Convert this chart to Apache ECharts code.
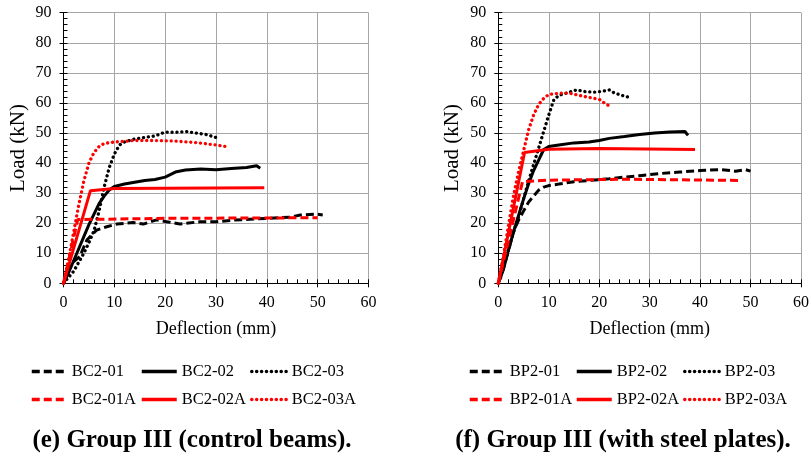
<!DOCTYPE html>
<html>
<head>
<meta charset="utf-8">
<script src="https://cdn.jsdelivr.net/npm/echarts@6/dist/echarts.min.js"></script>
<style>
  html, body { margin: 0; padding: 0; background: #fff; }
  #chart { width: 812px; height: 461px; }
</style>
</head>
<body>
<div id="chart"></div>
<script>
// Load–deflection curves, Group III beams. Points are [deflection (mm), load (kN)].

// (e) control beams — tests
const BC2_01 = [[0,0],[1,4],[1.6,6.7],[3.2,8.9],[4.6,14.4],[6.5,17.7],[8.5,18.8],[10.5,19.7],[13.7,20.2],[15.7,19.7],[18.3,21.1],[20.3,20.5],[22.9,19.7],[26.9,20.5],[30.1,20.5],[33.4,21],[40,21.6],[44.6,22],[46.6,22.7],[49.8,23],[51,22.7]];
const BC2_02 = [[0,0],[1,3.5],[2,7.5],[3,11.5],[4,15.5],[5,19.5],[6,23],[7,26.5],[8,29],[9,31],[10,32.2],[12,33],[14,33.6],[16,34.2],[18,34.5],[20,35.3],[22,37],[24,37.7],[27,38],[30,37.8],[33,38.2],[36,38.5],[38,39.1],[38.7,38.3]];
const BC2_03 = [[0,0],[1,2],[2,4],[3,7],[4,10],[5,13.5],[6,17.5],[7,24],[8,32],[9,38.5],[10,43],[11,46],[12,47],[14,48],[16,48.5],[18,49],[20,50.3],[22,50.2],[24,50.5],[26,50],[28,49.5],[30,48.5]];
// (e) control beams — analytical
const BC2_01A = [[0,0],[2.8,21.2],[20,21.6],[50,21.8]];
const BC2_02A = [[0,0],[5.3,30.8],[10,31.5],[39.5,31.8]];
const BC2_03A = [[0,0],[1,8],[2,17],[3,26],[4,34],[5,40],[6,43.5],[7,45.5],[8,46.5],[10,47],[14,47.5],[18,47.5],[22,47.3],[26,46.8],[30,46],[32.5,45.3]];

// (f) beams with steel plates — tests
const BP2_01 = [[0,0],[1,5],[2,11],[3,17],[4,21],[5,24],[6,27],[7,29],[8,31],[9,32],[10,32.5],[12,33],[15,33.8],[18,34.2],[22,34.8],[25,35.3],[28,35.8],[32,36.5],[36,37],[40,37.5],[44,37.8],[47,37.3],[49,37.8],[50,37.3]];
const BP2_02 = [[0,0],[1,4.5],[2,11],[3,17],[4,22.5],[5,28],[6,33],[7,37.5],[8,41],[9,44.5],[10,45.5],[12,46],[15,46.7],[18,47],[20,47.5],[22,48.2],[25,48.8],[28,49.5],[31,50],[34,50.3],[37,50.5],[37.6,49.2]];
const BP2_03 = [[0,0],[1,5],[2,11],[3,17],[4,22],[5,28],[6,34],[7,39.5],[8,45],[9,50.5],[10,56],[11,61],[12,62.5],[14,63.5],[15.5,64.3],[17,63.8],[19,63.6],[20.5,63.8],[22,64.3],[23,63.3],[24.5,62.5],[26,61.8]];
// (f) beams with steel plates — analytical
const BP2_01A = [[0,0],[4.8,33.8],[10,34.3],[25,34.6],[48,34.2]];
const BP2_02A = [[0,0],[5.2,43.5],[10,44.6],[20,44.8],[39,44.5]];
const BP2_03A = [[0,0],[1,9],[2,19],[3,29],[4,37],[5,44],[6,51],[7,56],[8,59.5],[9,61.5],[10,62.8],[12,63.2],[14,63.3],[16,62.5],[18,61.8],[20,61.2],[21,60],[22.3,58.7]];

const leftNames = ['BC2-01', 'BC2-02', 'BC2-03', 'BC2-01A', 'BC2-02A', 'BC2-03A'];
const rightNames = ['BP2-01', 'BP2-02', 'BP2-03', 'BP2-01A', 'BP2-02A', 'BP2-03A'];
const leftData = [BC2_01, BC2_02, BC2_03, BC2_01A, BC2_02A, BC2_03A];
const rightData = [BP2_01, BP2_02, BP2_03, BP2_01A, BP2_02A, BP2_03A];
const captions = ['(e) Group III (control beams).', '(f) Group III (with steel plates).'];

const FONT = 'Liberation Serif';
const colors = ['#000000', '#000000', '#000000', '#ff0000', '#ff0000', '#ff0000'];
const styles = [
  { type: [8, 4], width: 3 },                    // dashed
  { type: 'solid', width: 3 },                   // solid
  { type: [0.1, 4.8], width: 3.3, cap: 'round' } // dotted
];

const panels = [
  { left: 63.5, names: leftNames, data: leftData, legendX: [30, 140, 250], title: captions[0], titleX: 192 },
  { left: 498.3, names: rightNames, data: rightData, legendX: [468, 575, 683], title: captions[1], titleX: 623 }
];

const grids = [], xAxes = [], yAxes = [], series = [], legends = [];

panels.forEach((p, gi) => {
  grids.push({ left: p.left, top: 12.7, width: 305, height: 270.6, containLabel: false });

  const xBase = {
    type: 'value', gridIndex: gi, min: 0, max: 60, interval: 10,
    axisLine: { show: true, onZero: false, lineStyle: { color: '#000', width: 1 } }
  };
  const yBase = {
    type: 'value', gridIndex: gi, min: 0, max: 90, interval: 10,
    axisLine: { show: true, onZero: false, lineStyle: { color: '#000', width: 1 } }
  };

  // main axes: labels, grid lines, outward major ticks
  xAxes.push(Object.assign({}, xBase, {
    position: 'bottom',
    name: 'Deflection (mm)', nameLocation: 'middle', nameGap: 37,
    nameTextStyle: { fontFamily: FONT, fontSize: 18, color: '#000' },
    axisTick: { show: true, inside: false, length: 4, lineStyle: { color: '#000' } },
    axisLabel: { fontFamily: FONT, fontSize: 16, color: '#000', margin: 11 },
    splitLine: { show: true, lineStyle: { color: '#a6a6a6', width: 1 } }
  }));
  yAxes.push(Object.assign({}, yBase, {
    position: 'left',
    name: 'Load (kN)', nameLocation: 'middle', nameGap: 35, nameRotate: 90,
    nameTextStyle: { fontFamily: FONT, fontSize: 21, color: '#000' },
    axisTick: { show: true, inside: false, length: 4, lineStyle: { color: '#000' } },
    axisLabel: { fontFamily: FONT, fontSize: 16, color: '#000', margin: 12 },
    splitLine: { show: true, lineStyle: { color: '#a6a6a6', width: 1 } }
  }));
  // companion axes: inward major and minor ticks
  xAxes.push(Object.assign({}, xBase, {
    position: 'bottom',
    axisTick: { show: true, inside: true, length: 4, lineStyle: { color: '#000' } },
    minorTick: { show: true, splitNumber: 5, length: 4, lineStyle: { color: '#000' } },
    axisLabel: { show: false }, splitLine: { show: false }
  }));
  yAxes.push(Object.assign({}, yBase, {
    position: 'left',
    axisTick: { show: true, inside: true, length: 4, lineStyle: { color: '#000' } },
    minorTick: { show: true, splitNumber: 5, length: 4, lineStyle: { color: '#000' } },
    axisLabel: { show: false }, splitLine: { show: false }
  }));

  p.names.forEach((name, i) => {
    series.push({
      name: name, type: 'line', xAxisIndex: gi * 2, yAxisIndex: gi * 2,
      data: p.data[i], symbol: 'none', smooth: false, animation: false,
      color: colors[i],
      lineStyle: Object.assign({ color: colors[i] }, styles[i % 3])
    });
    legends.push({
      data: [name], left: p.legendX[i % 3], top: i < 3 ? 363 : 391,
      padding: 0, itemWidth: 35, itemHeight: 14, itemGap: 0,
      itemStyle: { opacity: 0 },
      lineStyle: { opacity: 1, width: 3.5 },
      textStyle: { fontFamily: FONT, fontSize: 16.5, color: '#000' },
      selectedMode: false
    });
  });
});

const chart = echarts.init(document.getElementById('chart'), null, { renderer: 'canvas' });
chart.setOption({
  animation: false,
  backgroundColor: '#fff',
  grid: grids, xAxis: xAxes, yAxis: yAxes, series: series, legend: legends,
  graphic: panels.map((p) => ({
    type: 'text', x: p.titleX, y: 441,
    style: {
      text: p.title, textAlign: 'center', textVerticalAlign: 'middle',
      font: 'bold 25px "' + FONT + '"', fill: '#000'
    }
  }))
});
</script>
</body>
</html>
